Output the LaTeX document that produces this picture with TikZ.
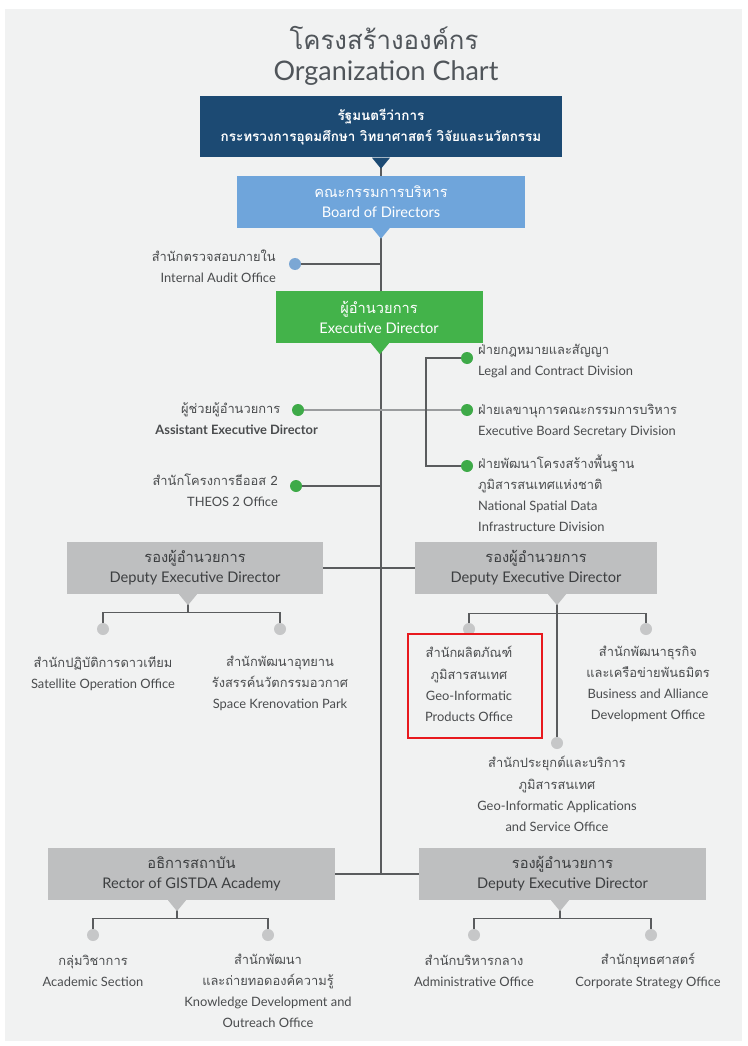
\documentclass[tikz,border=0pt]{standalone}
\usepackage{fontspec}
\setmainfont{Lato}
\newfontfamily\thai[Script=Thai]{Loma}
\usetikzlibrary{positioning}
\usetikzlibrary{calc}
\definecolor{panelgrey}{HTML}{F1F2F2}
\definecolor{navy}{HTML}{1C4A73}
\definecolor{boardblue}{HTML}{6FA5DB}
\definecolor{execgreen}{HTML}{43B34A}
\definecolor{boxgrey}{HTML}{BEBFC0}
\definecolor{dotgrey}{HTML}{C6C7C8}
\definecolor{dotblue}{HTML}{7BA7D4}
\definecolor{dotgreen}{HTML}{3EAA48}
\definecolor{wiregrey}{HTML}{5A5C5E}
\definecolor{lightwire}{HTML}{9A9C9E}
\definecolor{lbltext}{HTML}{4A4C4E}
\definecolor{boxtext}{HTML}{3C3E40}
\definecolor{titletext}{HTML}{50555A}
\definecolor{markred}{HTML}{E8191E}
\pgfdeclarelayer{panel}
\pgfdeclarelayer{wires}
\pgfsetlayers{panel,wires,main}
\tikzset{boxlabel/.style = {align=center, inner sep=0pt,
                            font=\fontsize{12.5}{17}\selectfont}}
\tikzset{govbox/.style = {boxlabel, fill=navy, text=white,
                          minimum width=10.86cm, minimum height=1.83cm,
                          font=\thai\bfseries\fontsize{11.5}{18}\selectfont}}
\tikzset{boardbox/.style = {boxlabel, fill=boardblue, text=white,
                            minimum width=8.61cm, minimum height=1.53cm}}
\tikzset{execbox/.style = {boxlabel, fill=execgreen, text=white,
                           minimum width=6.21cm, minimum height=1.56cm}}
\tikzset{greybox/.style = {boxlabel, fill=boxgrey, text=boxtext,
                           minimum height=1.56cm}}
\tikzset{dot/.style = {circle, inner sep=0pt, minimum size=0.36cm}}
\tikzset{lbl/.style = {inner sep=0pt, text=lbltext,
                       font=\fontsize{11}{18}\selectfont}}
\tikzset{wire/.style = {draw=wiregrey, line width=1.1pt}}
\newcommand{\pointer}[3]{\fill[#3] ($(#1.south)+(#2-9,0)$) -- ($(#1.south)+(#2+9,0)$)
  -- ($(#1.south)+(#2,11)$) -- cycle;}

\begin{document}
\begin{tikzpicture}[x=0.03cm, y=-0.03cm]
  \useasboundingbox (0,0) rectangle (747,1046);
  \begin{pgfonlayer}{panel}
    \fill[white] (0,0) rectangle (747,1046);
    \fill[panelgrey] (5,9) rectangle (742,1041);
  \end{pgfonlayer}
  \node[inner sep=0pt, anchor=base, text depth=0pt, text=titletext,
        font=\thai\fontsize{22}{26}\selectfont]
    (titleth) at (384,50) {โครงสร้างองค์กร};
  \node[inner sep=0pt, anchor=base, text=titletext, font=\fontsize{23}{26}\selectfont]
    (titleen) at (386,81) {Organization Chart};
  % boxes
  \node[govbox] (gov) at (381,127)
    {รัฐมนตรีว่าการ\\กระทรวงการอุดมศึกษา วิทยาศาสตร์ วิจัยและนวัตกรรม};
  \node[boardbox] (board) at (381,202)
    {{\thai คณะกรรมการบริหาร}\\Board of Directors};
  \node[execbox] (exec) at (379,317)
    {{\thai ผู้อำนวยการ}\\Executive Director};
  \node[greybox, minimum width=7.68cm] (depA) at (195,568)
    {{\thai รองผู้อำนวยการ}\\Deputy Executive Director};
  \node[greybox, minimum width=7.26cm] (depB) at (536,568)
    {{\thai รองผู้อำนวยการ}\\Deputy Executive Director};
  \node[greybox, minimum width=8.61cm] (rector) at (191.5,874)
    {{\thai อธิการสถาบัน}\\Rector of GISTDA Academy};
  \node[greybox, minimum width=8.61cm] (depC) at (562.5,874)
    {{\thai รองผู้อำนวยการ}\\Deputy Executive Director};
  \pointer{gov}{0}{navy}
  \pointer{board}{0}{boardblue}
  \pointer{exec}{1}{execgreen}
  \pointer{depA}{-7}{boxgrey}
  \pointer{depB}{21}{boxgrey}
  \pointer{rector}{-14.5}{boxgrey}
  \pointer{depC}{-2.5}{boxgrey}
  % dots
  \node[dot, fill=dotblue] (audit) at (295,264) {};
  \node[dot, fill=dotgreen] (asst) at (298,410) {};
  \node[dot, fill=dotgreen] (theos) at (296,486) {};
  \node[dot, fill=dotgreen] (legal) at (467,358) {};
  \node[dot, fill=dotgreen] (exbd) at (467,410) {};
  \node[dot, fill=dotgreen] (natl) at (467,466) {};
  \node[dot, fill=dotgrey] (sat) at (103,629) {};
  \node[dot, fill=dotgrey] (skp) at (280,629) {};
  \node[dot, fill=dotgrey] (gip) at (469,629) {};
  \node[dot, fill=dotgrey] (bad) at (646,629) {};
  \node[dot, fill=dotgrey] (gapp) at (557,743) {};
  \node[dot, fill=dotgrey] (acad) at (93,935) {};
  \node[dot, fill=dotgrey] (kdo) at (268,935) {};
  \node[dot, fill=dotgrey] (adm) at (474,935) {};
  \node[dot, fill=dotgrey] (cso) at (651,935) {};
  % labels
  \node[lbl, align=right, anchor=east] (auditt) at (276,266)
    {{\thai สำนักตรวจสอบภายใน}\\Internal Audit Office};
  \node[lbl, align=right, anchor=east] (asstt) at (318,419)
    {{\thai ผู้ช่วยผู้อำนวยการ}\hspace*{32pt}\\\textbf{Assistant Executive Director}};
  \node[lbl, align=right, anchor=east] (theost) at (278,490)
    {{\thai สำนักโครงการธีออส 2}\\THEOS 2 Office};
  \node[lbl, align=left, anchor=west] (legalt) at (478,361)
    {{\thai ฝ่ายกฎหมายและสัญญา}\\Legal and Contract Division};
  \node[lbl, align=left, anchor=west] (exbdt) at (478,421)
    {{\thai ฝ่ายเลขานุการคณะกรรมการบริหาร}\\Executive Board Secretary Division};
  \node[lbl, align=left, anchor=west] (natlt) at (478,493)
    {{\thai ฝ่ายพัฒนาโครงสร้างพื้นฐาน}\\{\thai ภูมิสารสนเทศแห่งชาติ}\\National Spatial Data\\Infrastructure Division};
  \node[lbl, align=center] (satt) at (103,674)
    {{\thai สำนักปฏิบัติการดาวเทียม}\\Satellite Operation Office};
  \node[lbl, align=center] (skpt) at (280,683)
    {{\thai สำนักพัฒนาอุทยาน}\\{\thai รังสรรค์นวัตกรรมอวกาศ}\\Space Krenovation Park};
  \node[lbl, align=center] (gipt) at (469,684)
    {{\thai สำนักผลิตภัณฑ์}\\{\thai ภูมิสารสนเทศ}\\Geo-Informatic\\Products Office};
  \node[lbl, align=center] (badt) at (648,684)
    {{\thai สำนักพัฒนาธุรกิจ}\\{\thai และเครือข่ายพันธมิตร}\\Business and Alliance\\Development Office};
  \node[lbl, align=center] (gappt) at (557,794)
    {{\thai สำนักประยุกต์และบริการ}\\{\thai ภูมิสารสนเทศ}\\Geo-Informatic Applications\\and Service Office};
  \node[lbl, align=center] (acadt) at (93,971)
    {{\thai กลุ่มวิชาการ}\\Academic Section};
  \node[lbl, align=center] (kdot) at (268,991)
    {{\thai สำนักพัฒนา}\\{\thai และถ่ายทอดองค์ความรู้}\\Knowledge Development and\\Outreach Office};
  \node[lbl, align=center] (admt) at (474,971)
    {{\thai สำนักบริหารกลาง}\\Administrative Office};
  \node[lbl, align=center] (csot) at (648,971)
    {{\thai สำนักยุทธศาสตร์}\\Corporate Strategy Office};
  \node[draw=markred, line width=1.6pt, minimum width=4.02cm, minimum height=3.12cm]
    (mark) at (475,686) {};
  % connectors
  \begin{pgfonlayer}{wires}
    \coordinate (trunkend) at (gov.south |- rector.east);
    \draw[wire] (gov.south) -- (trunkend);
    \draw[wire] (rector.east) -- (depC.west);
    \draw[wire] (depA.east) -- (depB.west);
    \draw[wire] (audit.center) -- (audit -| gov.south);
    \draw[wire, draw=lightwire] (asst.center) -- (exbd.center);
    \draw[wire] (theos.center) -- (theos -| gov.south);
    \draw[wire] (legal.center) -- ++(-41,0) |- (natl.center);
    \coordinate (depAbar) at ($(depA.south)+(-7,18)$);
    \draw[wire] ($(depA.south)+(-7,0)$) -- (depAbar);
    \draw[wire] (sat.center) |- (depAbar) -| (skp.center);
    \coordinate (depBbar) at ($(depB.south)+(21,19)$);
    \draw[wire] (gapp.center) -- (gapp |- depB.south);
    \draw[wire] (gip.center) |- (depBbar) -| (bad.center);
    \coordinate (rectorbar) at ($(rector.south)+(-14.5,18)$);
    \draw[wire] ($(rector.south)+(-14.5,0)$) -- (rectorbar);
    \draw[wire] (acad.center) |- (rectorbar) -| (kdo.center);
    \coordinate (depCbar) at ($(depC.south)+(-2.5,18)$);
    \draw[wire] ($(depC.south)+(-2.5,0)$) -- (depCbar);
    \draw[wire] (adm.center) |- (depCbar) -| (cso.center);
  \end{pgfonlayer}
\end{tikzpicture}
\end{document}
